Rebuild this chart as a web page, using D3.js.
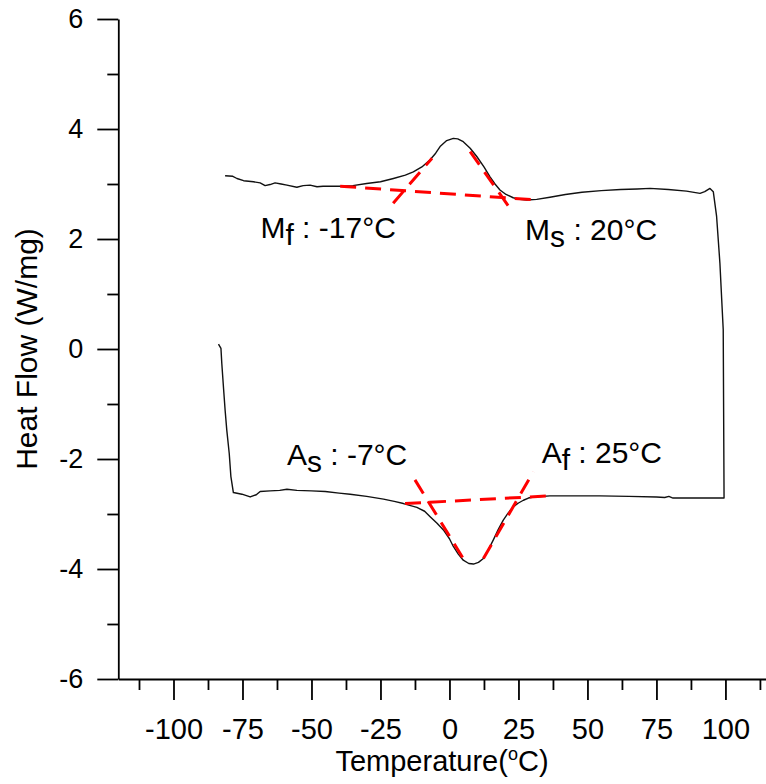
<!DOCTYPE html>
<html>
<head>
<meta charset="utf-8">
<script src="https://cdn.jsdelivr.net/npm/d3@7"></script>
<style>
  html, body { margin: 0; padding: 0; background: #fff; }
  svg { display: block; }
  text { font-family: "Liberation Sans", Arial, sans-serif; fill: #000; }
</style>
</head>
<body>
<svg id="chart" width="766" height="784"></svg>
<script>
// ---- data ----
const xMajorTicks = [-100, -75, -50, -25, 0, 25, 50, 75, 100];
const xMinorTicks = [-112.5, -87.5, -62.5, -37.5, -12.5, 12.5, 37.5, 62.5, 87.5, 112.5];
const yMajorTicks = [-6, -4, -2, 0, 2, 4, 6];
const yMinorTicks = [-5, -3, -1, 1, 3, 5];

// heating curve (lower branch), left to right, including the initial drop
const lowerTemp = [-83.7, -82.8, -82.5, -81.9, -81.3, -80.7, -79.8, -79.2, -78.3, -75.2, -72.2, -70, -68.6, -65, -61.5, -58.9, -55.3, -50, -45, -40, -36, -30, -23.9, -20, -16.7, -11.8, -9, -7, -4.5, -2.2, 0, 1.4, 3.2, 5, 7, 8.7, 10.5, 12.3, 14, 15.9, 17.7, 19.5, 21.3, 23.1, 25, 26.8, 28.6, 30.4, 36.4, 45, 54.5, 65, 75, 78, 79.5, 81, 85, 92, 99.5];
const lowerHeat = [0.09, 0.01, -0.26, -0.69, -1.11, -1.47, -1.9, -2.32, -2.61, -2.64, -2.69, -2.65, -2.59, -2.58, -2.57, -2.55, -2.57, -2.58, -2.59, -2.62, -2.64, -2.68, -2.73, -2.77, -2.81, -2.88, -2.95, -3.05, -3.17, -3.29, -3.45, -3.59, -3.73, -3.84, -3.9, -3.91, -3.88, -3.81, -3.66, -3.47, -3.28, -3.11, -2.98, -2.87, -2.8, -2.75, -2.71, -2.69, -2.67, -2.67, -2.67, -2.68, -2.69, -2.7, -2.68, -2.71, -2.71, -2.71, -2.71];

// cooling curve (upper branch), left to right, including the right-hand drop
const upperTemp = [-81.3, -78.5, -77, -74.6, -71, -68.6, -66.8, -65, -63.2, -61, -58.9, -55.3, -53, -50.5, -48, -45.8, -40, -35, -30, -25, -20.3, -16, -13.1, -10, -7, -5, -3.4, -1, 1.4, 3, 5, 7.5, 9.9, 12.5, 14.7, 16.5, 18.3, 20.5, 23.1, 25.5, 28, 31.6, 36.4, 42, 48, 55, 62, 68, 72.7, 79.3, 85.9, 90.8, 92.5, 94.4, 95.6, 96.8, 98, 98.6, 99.2, 99.5];
const upperHeat = [3.15, 3.14, 3.1, 3.06, 3.04, 3.02, 2.97, 2.99, 3.02, 3, 2.98, 2.94, 2.97, 2.98, 2.95, 2.96, 2.96, 2.97, 3.01, 3.04, 3.1, 3.16, 3.22, 3.31, 3.44, 3.56, 3.68, 3.79, 3.83, 3.82, 3.77, 3.65, 3.5, 3.31, 3.13, 3, 2.89, 2.81, 2.75, 2.72, 2.71, 2.72, 2.76, 2.81, 2.85, 2.88, 2.9, 2.91, 2.92, 2.9, 2.87, 2.83, 2.86, 2.92, 2.86, 2.41, 1.56, 0.95, 0.35, -2.71];

// tangent construction lines (red dashed): [T1, HF1, T2, HF2]
const tangentNames = ["upperBase", "MfTangent", "MsTangent", "lowerBase", "AsTangent", "AfTangent"];
const tangentT1 = [-39.6, -20.4, 7.5, -16.1, -12.5, 12.3];
const tangentH1 = [2.96, 2.65, 3.59, -2.81, -2.38, -3.81];
const tangentT2 = [31.6, -6.3, 21.9, 36.4, 5.0, 30.4];
const tangentH2 = [2.71, 3.47, 2.56, -2.67, -3.81, -2.23];

// annotations: main symbol, subscript, rest of text, anchor in data units
const annMain = ["M", "M", "A", "A"];
const annSub = ["f", "s", "s", "f"];
const annRest = [" : -17°C", " : 20°C", " : -7°C", " : 25°C"];
const annT = [-68.5, 27.4, -58.9, 33.4];
const annH = [2.02, 1.98, -2.11, -2.08];

// ---- drawing ----
const svg = d3.select("#chart");
const x = d3.scaleLinear().domain([-120, 114.7]).range([118.3, 766]);
const y = d3.scaleLinear().domain([-6, 6]).range([679, 19]);
const fmt = d => String(d); // plain hyphen-minus as in the reference

// axes
const axX = svg.append("g").attr("transform", `translate(0,${y(-6)})`);
axX.call(d3.axisBottom(x).tickValues(xMajorTicks).tickSize(21).tickSizeOuter(0).tickPadding(18).tickFormat(fmt));
const axXm = svg.append("g").attr("transform", `translate(0,${y(-6)})`);
axXm.call(d3.axisBottom(x).tickValues(xMinorTicks).tickSize(11).tickSizeOuter(0).tickFormat(""));
axXm.select(".domain").remove();

const axY = svg.append("g").attr("transform", `translate(${x(-120)},0)`);
axY.call(d3.axisLeft(y).tickValues(yMajorTicks).tickSize(21).tickSizeOuter(0).tickPadding(14).tickFormat(fmt));
const axYm = svg.append("g").attr("transform", `translate(${x(-120)},0)`);
axYm.call(d3.axisLeft(y).tickValues(yMinorTicks).tickSize(11).tickSizeOuter(0).tickFormat(""));
axYm.select(".domain").remove();

svg.selectAll(".domain, .tick line").attr("stroke", "#000").attr("stroke-width", 1.8);
axX.selectAll(".tick text").style("font-size", "29px").attr("fill", "#000");
axY.selectAll(".tick text").style("font-size", "27px").attr("fill", "#000");

// axis titles
const xt = svg.append("text").attr("x", 442).attr("y", 771).attr("text-anchor", "middle").style("font-size", "29px");
xt.append("tspan").text("Temperature(");
xt.append("tspan").text("o").style("font-size", "18px").attr("dy", -11);
xt.append("tspan").text("C)").attr("dy", 11);

svg.append("text")
  .attr("transform", `translate(37,${y(0)}) rotate(-90)`)
  .attr("text-anchor", "middle")
  .style("font-size", "30px")
  .text("Heat Flow (W/mg)");

// curve: one continuous loop
const loop = [];
lowerTemp.forEach((t, i) => loop.push([t, lowerHeat[i]]));
for (let i = upperTemp.length - 1; i >= 0; i--) loop.push([upperTemp[i], upperHeat[i]]);

const line = d3.line().x(d => x(d[0])).y(d => y(d[1]));
svg.append("path")
  .datum(loop)
  .attr("d", line)
  .attr("fill", "none")
  .attr("stroke", "#111")
  .attr("stroke-width", 1.4)
  .attr("stroke-linejoin", "round");

// tangent lines
svg.append("g").selectAll("line")
  .data(tangentNames.map((n, i) => ({ n, t1: tangentT1[i], h1: tangentH1[i], t2: tangentT2[i], h2: tangentH2[i] })))
  .join("line")
  .attr("x1", d => x(d.t1)).attr("y1", d => y(d.h1))
  .attr("x2", d => x(d.t2)).attr("y2", d => y(d.h2))
  .attr("stroke", "#f00")
  .attr("stroke-width", 3)
  .attr("stroke-dasharray", "16,9");

// annotations
annMain.forEach((m, i) => {
  const t = svg.append("text").attr("x", x(annT[i])).attr("y", y(annH[i])).style("font-size", "30px");
  t.append("tspan").text(m);
  t.append("tspan").text(annSub[i]).attr("dy", 7);
  t.append("tspan").text(annRest[i]).attr("dy", -7);
});
</script>
</body>
</html>
